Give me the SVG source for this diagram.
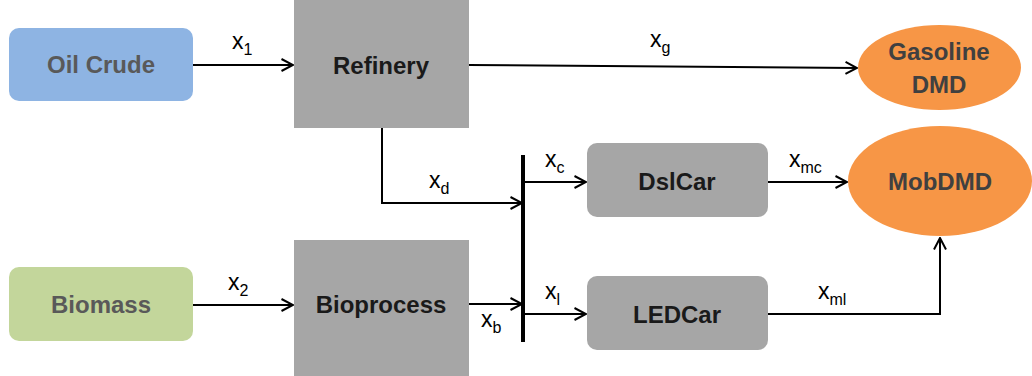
<svg xmlns="http://www.w3.org/2000/svg" width="1032" height="376" viewBox="0 0 1032 376">
<defs>
<marker id="arr" markerUnits="userSpaceOnUse" markerWidth="14" markerHeight="14" viewBox="0 0 14 14" refX="12.5" refY="7" orient="auto">
<path d="M1,1 L12.5,7 L1,13" fill="none" stroke="#000" stroke-width="2"/>
</marker>
</defs>
<style>
.lbl{font-family:"Liberation Sans",Arial,sans-serif;font-weight:bold;font-size:24px;text-anchor:middle}
.src{fill:#595959}
.proc{fill:#1a1a1a}
.dmd{fill:#404040}
.sub{font-family:"Liberation Sans",Arial,sans-serif;font-size:23px;fill:#000}
.s{font-size:16px}
.ln{fill:none;stroke:#000;stroke-width:2}
</style>
<rect width="1032" height="376" fill="#fff"/>
<g id="connectors">
<path class="ln" d="M193,65 L293,65" marker-end="url(#arr)"/>
<path class="ln" d="M469,65 L857,68" marker-end="url(#arr)"/>
<path class="ln" d="M382,128 L382,203 L522,203" marker-end="url(#arr)"/>
<path class="ln" d="M193,305 L293,305" marker-end="url(#arr)"/>
<path class="ln" d="M469,304 L522,304" marker-end="url(#arr)"/>
<path d="M523,155 L523,342" fill="none" stroke="#000" stroke-width="4"/>
<path class="ln" d="M523,182 L586,182" marker-end="url(#arr)"/>
<path class="ln" d="M523,314 L586,314" marker-end="url(#arr)"/>
<path class="ln" d="M768,182 L847,182" marker-end="url(#arr)"/>
<path class="ln" d="M768,314 L940,314 L940,238" marker-end="url(#arr)"/>
<text class="sub" x="232" y="49">x<tspan class="s" dy="6">1</tspan></text>
<text class="sub" x="650" y="47">x<tspan class="s" dy="6">g</tspan></text>
<text class="sub" x="429" y="188">x<tspan class="s" dy="6">d</tspan></text>
<text class="sub" x="545" y="167">x<tspan class="s" dy="6">c</tspan></text>
<text class="sub" x="789" y="167">x<tspan class="s" dy="6">mc</tspan></text>
<text class="sub" x="228" y="290">x<tspan class="s" dy="6">2</tspan></text>
<text class="sub" x="481" y="327">x<tspan class="s" dy="6">b</tspan></text>
<text class="sub" x="545" y="299">x<tspan class="s" dy="6">l</tspan></text>
<text class="sub" x="818" y="299">x<tspan class="s" dy="6">ml</tspan></text>
</g>
<g id="oilcrude">
<rect x="9" y="28" width="184" height="73" rx="10" fill="#8EB4E3"/>
<text class="lbl src" x="101" y="73">Oil Crude</text>
</g>
<g id="refinery">
<rect x="294" y="0" width="175" height="128" fill="#A6A6A6"/>
<text class="lbl proc" x="381" y="74">Refinery</text>
</g>
<g id="gasoline">
<ellipse cx="939.5" cy="67.5" rx="81.5" ry="42.5" fill="#F79646"/>
<text class="lbl dmd" x="939" y="60">Gasoline</text>
<text class="lbl dmd" x="939" y="93">DMD</text>
</g>
<g id="biomass">
<rect x="9" y="267" width="184" height="74" rx="10" fill="#C3D69B"/>
<text class="lbl src" x="101" y="313">Biomass</text>
</g>
<g id="bioprocess">
<rect x="294" y="240" width="175" height="140" fill="#A6A6A6"/>
<text class="lbl proc" x="381" y="313">Bioprocess</text>
</g>
<g id="dslcar">
<rect x="587" y="143" width="181" height="74" rx="10" fill="#A6A6A6"/>
<text class="lbl proc" x="677" y="190">DslCar</text>
</g>
<g id="ledcar">
<rect x="587" y="276" width="181" height="74" rx="10" fill="#A6A6A6"/>
<text class="lbl proc" x="677" y="323">LEDCar</text>
</g>
<g id="mobdmd">
<ellipse cx="940" cy="181" rx="92" ry="55" fill="#F79646"/>
<text class="lbl dmd" x="940" y="190">MobDMD</text>
</g>
</svg>
